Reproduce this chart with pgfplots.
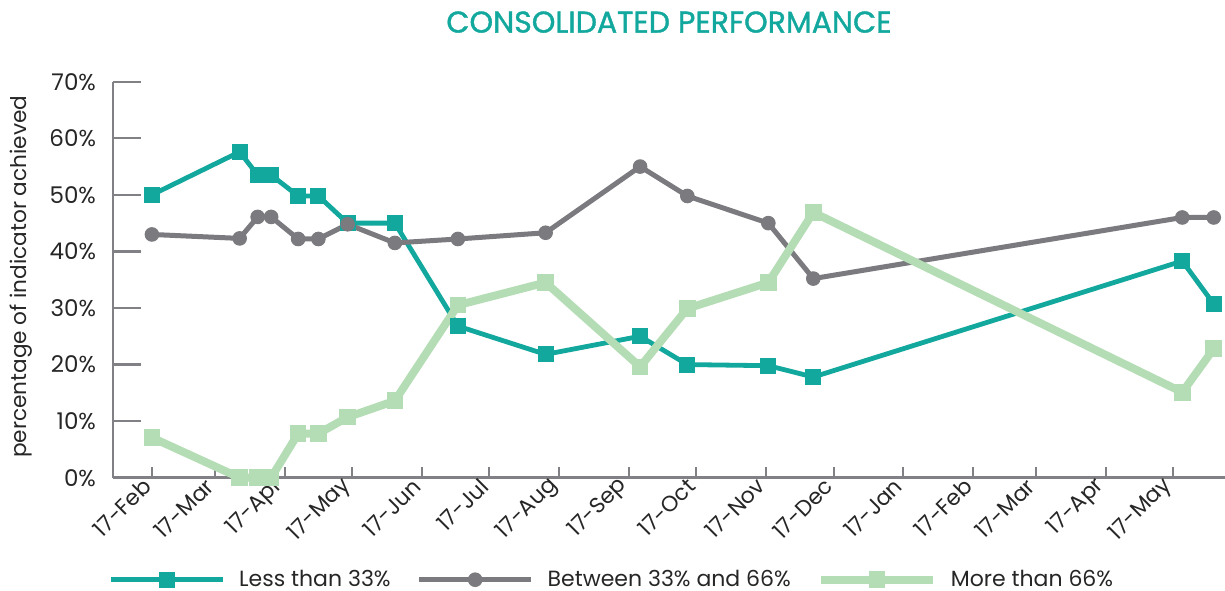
\documentclass[border=0pt]{standalone}
\usepackage{fontspec}
\setmainfont{Poppins}
\newfontfamily\titlefont[RawFeature={embolden=1.2}]{Poppins}
\usepackage{pgfplots}
\pgfplotsset{compat=1.18}
\definecolor{cteal}{HTML}{12A89D}
\definecolor{cgray}{HTML}{7A7A7F}
\definecolor{cgreen}{HTML}{B5DDB5}
\definecolor{caxis}{HTML}{808085}

% x = days since 17 Feb 2017
\pgfplotstableread{
day  less  between  more
0    50.0  43.0     7.1
39   57.6  42.3     0
47   53.5  46.1     0
53   53.5  46.1     0
65   49.8  42.2     7.8
74   49.8  42.2     7.8
87   45.0  44.8     10.7
108  45.0  41.5     13.6
136  26.8  42.2     30.5
175  21.8  43.3     34.5
217  25.0  55.0     19.6
238  20.0  49.8     29.9
274  19.8  45.0     34.5
294  17.8  35.2     46.9
458  38.3  46.0     15.1
472  30.7  46.0     22.8
}\perf

\begin{document}
\begin{tikzpicture}
\path[use as bounding box] (-56.5bp,-56.65bp) rectangle (556bp,238.85bp);
\begin{axis}[
    at={(0,0)}, anchor=south west,
    scale only axis, width=556bp, height=198bp,
    xmin=-17.3, xmax=477, ymin=0, ymax=70,
    axis x line*=bottom, axis y line*=left,
    axis line style={caxis, line width=1.35bp},
    tick align=inside,
    major tick length=14bp,
    xtick={0,28,59,89,120,150,181,212,242,273,303,334,365,393,424,454},
    xticklabels={17-Feb,17-Mar,17-Apr,17-May,17-Jun,17-Jul,17-Aug,17-Sep,17-Oct,17-Nov,17-Dec,17-Jan,17-Feb,17-Mar,17-Apr,17-May},
    ytick={0,10,...,70},
    yticklabels={0\%,10\%,20\%,30\%,40\%,50\%,60\%,70\%},
    xtick style={caxis, line width=1bp, /pgfplots/major tick length=5.5bp},
    ytick style={caxis, line width=1.2bp},
    tick label style={font=\fontsize{11.5bp}{13bp}\selectfont, text=black!85},
    xticklabel style={rotate=45, anchor=east, font=\fontsize{11bp}{13bp}\selectfont},
    yticklabel style={xshift=-5bp},
    clip=false,
    legend columns=3,
    legend style={draw=none, fill=none, at={(-0.0045,-0.2576)}, anchor=west,
        inner sep=0pt, font=\fontsize{11bp}{13bp}\selectfont, text=black!85,
        /tikz/every odd column/.append style={column sep=5bp},
        /tikz/every even column/.append style={column sep=11bp}},
    legend image code/.code={\draw[mark repeat=2,mark phase=2,#1]
        plot coordinates {(0bp,0bp)(28bp,0bp)(56bp,0bp)};},
]
\addplot[cteal, line width=2.4bp, mark=square*, mark size=3.75bp,
    mark options={solid, fill=cteal, draw=cteal, line width=0.5bp}]
    table[x=day, y=less] {\perf};
\addlegendentry{Less than 33\%}
\addplot[cgray, line width=2.5bp, mark=*, mark size=3.4bp,
    mark options={solid, fill=cgray, draw=cgray, line width=0.5bp}]
    table[x=day, y=between] {\perf};
\addlegendentry{Between 33\% and 66\%}
\addplot[cgreen, line width=4bp, mark=square*, mark size=3.9bp,
    mark options={solid, fill=cgreen, draw=cgreen, line width=0.5bp}]
    table[x=day, y=more] {\perf};
\addlegendentry{More than 66\%}
\end{axis}
\node[font=\titlefont\fontsize{15bp}{17bp}\selectfont, text=cteal] at (278bp,227.8bp) {CONSOLIDATED PERFORMANCE};
\node[rotate=90, font=\fontsize{10.8bp}{13bp}\selectfont, text=black!85] at (-46bp,100.5bp) {percentage of indicator achieved};
\end{tikzpicture}
\end{document}
